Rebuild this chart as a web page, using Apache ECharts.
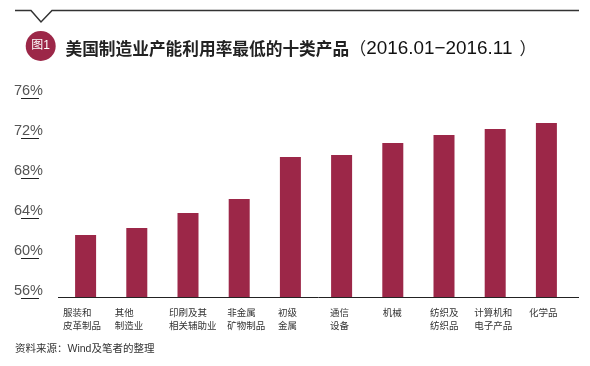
<!DOCTYPE html>
<html>
<head>
<meta charset="utf-8">
<style>
  html, body { margin: 0; padding: 0; background: #fff; }
  #chart { width: 590px; height: 366px; }
</style>
<script src="https://cdn.jsdelivr.net/npm/echarts@6/dist/echarts.min.js"></script>
</head>
<body>
<div id="chart"></div>
<script>
// 类别与数值
const categories = [
  '服装和\n皮革制品', '其他\n制造业', '印刷及其\n相关辅助业', '非金属\n矿物制品', '初级\n金属',
  '通信\n设备', '机械', '纺织及\n纺织品', '计算机和\n电子产品', '化学品'
];
const utilization = [62.3, 63.0, 64.5, 65.9, 70.1, 70.3, 71.5, 72.3, 72.9, 73.5];
const yMin = 56;
const yMax = 76;
const yStep = 4;

const titleCn = '美国制造业产能利用率最低的十类产品';
const titlePeriod = '2016.01−2016.11';
const badgeText = '图1';
const sourceText = '资料来源：Wind及笔者的整理';

const cjkFont = '"Liberation Sans", "Noto Sans CJK SC", sans-serif';
const barColor = '#9c2748';

// 标签块宽度，让文字相对柱子的偏移和原图一致
const labelBlockWidth = [45, 44, 38, 24, 25, 23, 20, 28, 42, 35];
const labelRich = {};
labelBlockWidth.forEach((w, i) => {
  labelRich['r' + i] = { width: w, align: 'left', fontSize: 9.5, lineHeight: 13, color: '#333', fontFamily: cjkFont };
});

const chart = echarts.init(document.getElementById('chart'), null, { renderer: 'canvas' });

chart.setOption({
  animation: false,
  backgroundColor: '#fff',
  grid: { left: 60, right: 18, top: 98, bottom: 68 },
  title: [
    {
      text: '{a|' + titleCn + '}{p|（}{b|' + titlePeriod + '}{p|）}',
      left: 65.5,
      top: 39,
      padding: 0,
      textStyle: {
        rich: {
          a: { fontSize: 16.7, fontWeight: 'bold', color: '#222', fontFamily: '"Noto Sans CJK SC", sans-serif' },
          p: { fontSize: 17, fontWeight: 'normal', color: '#222', fontFamily: '"Noto Sans CJK SC", sans-serif' },
          b: { fontSize: 18.9, fontWeight: 'normal', color: '#111', fontFamily: '"Liberation Sans", sans-serif', padding: [0, 7, 0, 0] }
        }
      }
    },
    {
      text: sourceText,
      left: 15,
      top: 344,
      padding: 0,
      textStyle: { fontSize: 10.5, fontWeight: 'normal', color: '#333', fontFamily: cjkFont }
    }
  ],
  xAxis: {
    type: 'category',
    data: categories,
    axisLine: { show: false },
    axisTick: { show: false },
    axisLabel: {
      interval: 0,
      margin: 9,
      hideOverlap: false,
      formatter: (value, index) => value.split('\n').map(line => '{r' + index + '|' + line + '}').join('\n'),
      rich: labelRich
    }
  },
  yAxis: {
    type: 'value',
    min: yMin,
    max: yMax,
    interval: yStep,
    offset: 21,
    splitLine: { show: false },
    axisLine: { show: false },
    axisTick: { show: true, length: 18, lineStyle: { color: '#222', width: 1 } },
    axisLabel: {
      margin: -4,
      fontSize: 14.5,
      lineHeight: 14,
      verticalAlign: 'bottom',
      color: '#555',
      fontFamily: '"Liberation Sans", sans-serif',
      formatter: '{value}%'
    }
  },
  series: [
    {
      type: 'bar',
      data: utilization,
      barWidth: 21,
      itemStyle: { color: barColor }
    }
  ],
  graphic: [
    // 顶部带缺口的横线
    {
      type: 'polyline',
      shape: { points: [[15, 10.5], [31, 10.5], [41, 22], [52, 10.5], [579, 10.5]] },
      style: { stroke: '#333', lineWidth: 1.5, fill: null }
    },
    // 图号圆标
    {
      type: 'circle',
      shape: { cx: 40.7, cy: 46, r: 15 },
      style: { fill: barColor }
    },
    {
      type: 'text',
      x: 40.7,
      y: 46,
      style: {
        text: badgeText,
        fill: '#fff',
        font: '12px ' + cjkFont,
        textAlign: 'center',
        textVerticalAlign: 'middle'
      }
    },
    // 底部基线
    {
      type: 'line',
      z: 10,
      shape: { x1: 58, y1: 297.5, x2: 579, y2: 297.5 },
      style: { stroke: '#222', lineWidth: 1 }
    }
  ]
});
</script>
</body>
</html>
